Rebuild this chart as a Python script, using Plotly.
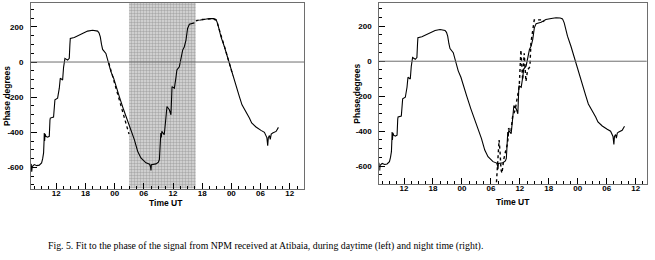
import numpy as np
import plotly.graph_objects as go

# Observed phase (hours UT counted from day-1 00:00, degrees)
time_h = [6.77, 6.85, 6.95, 7.05, 7.47, 8.0, 8.5, 8.98, 9.2, 9.39, 9.5, 9.53, 9.6, 9.7, 9.86,
          10.2, 10.56, 10.7, 10.77, 11.44, 11.6, 11.72, 12.27, 12.5, 12.62, 12.82, 13.3, 13.5,
          13.65, 13.78, 14.33, 14.67, 14.8, 14.88, 15.7, 16.4, 17.07, 17.8, 18.44, 19.47, 20.1,
          20.5, 20.8, 21.05, 21.3, 21.53, 22.2, 22.7, 23.23, 23.79, 24.27, 24.96, 25.85, 26.6,
          27.35, 28.05, 28.73, 29.4, 30.44, 31.2, 31.4, 31.47, 31.55, 32.5, 33.0, 33.2, 33.35,
          33.5, 33.6, 33.7, 34.2, 34.5, 34.76, 35.25, 35.58, 35.8, 36.28, 36.6, 36.8, 37.3,
          37.64, 37.99, 38.34, 38.67, 39.0, 39.37, 40.4, 41.4, 42.5, 43.5, 44.37, 44.84, 45.19,
          45.87, 46.57, 47.25, 47.6, 48.28, 48.96, 49.65, 50.19, 51.01, 51.71, 52.18, 53.07,
          54.1, 54.8, 55.3, 55.48, 55.6, 55.83, 56.0, 56.2, 56.5, 57.2, 57.68]
phase_deg = [-602, -580, -625, -595, -584, -590, -587, -574, -550, -517, -440, -404, -450, -410, -423,
             -428, -423, -330, -319, -313, -260, -215, -206, -175, -149, -92, -102, -30,
             2, 21, 11, 21, 100, 134, 140, 150, 159, 170, 176, 181, 180,
             176, 165, 143, 100, 72, 49, 2, -55, -92, -140, -197, -272, -330,
             -376, -442, -508, -546, -574, -582, -600, -617, -585, -580, -570, -555, -480,
             -404, -430, -395, -414, -330, -253, -272, -300, -140, -149, -90, -45, -27,
             11, 68, 87, 125, 191, 215, 223, 238, 244, 248, 247, 242, 219,
             143, 87, 21, -8, -74, -140, -197, -244, -282, -319, -347, -370,
             -389, -400, -430, -476, -430, -419, -440, -410, -404, -395, -372]

# Fit, daytime (left panel) - visible dotted portions
fit_day_t = [22.8, 23.5, 24.5, 25.5, 26.3, 26.95, None, 40.7, 42.0, 44.0, 44.8, 45.1, 45.8, 46.5, 47.2, 47.6, 48.3]
fit_day_v = [-5, -75, -170, -275, -350, -410, None, 235, 242, 246, 240, 222, 152, 96, 30, -4, -76]

# Fit, night time (right panel)
fit_night_t = [31.0, 31.5, 31.7, 31.9, 32.1, 32.3, 32.64, 33.1, 33.47, 33.67, 34.15, 34.5, 35.04,
               35.5, 35.87, 36.22, 36.57, 36.9, 37.26, 37.6, 38.09, 38.29, 38.64, 38.98, 40.7, 41.0]
fit_night_v = [-760, -560, -450, -520, -620, -640, -564, -507, -469, -383, -402, -317, -278,
               -202, -145, 65, -107, 46, -116, -50, -31, 103, 160, 236, 236, 225]

# Daytime interval shaded in the left panel
day_start, day_end = 26.95, 40.67

x_tickvals = [12, 18, 24, 30, 36, 42, 48, 54, 60]
x_ticktext = ["12", "18", "00", "06", "12", "18", "00", "06", "12"]
y_tickvals = [-600, -400, -200, 0, 200]
y_ticktext = ["-600", "-400", "-200", "0", "200"]

W, H = 655, 260
t = np.array(time_h)
p = np.array(phase_deg)

fig = go.Figure()

# shaded band (left)
fig.add_trace(go.Scatter(x=[day_start, day_end, day_end, day_start, day_start],
                         y=[-2000, -2000, 2000, 2000, -2000], fill="toself", mode="none",
                         fillcolor="#c8c8c8",
                         fillpattern=dict(shape=".", fgcolor="#7a7a7a", bgcolor="#dadada",
                                          size=3, solidity=0.5),
                         xaxis="x", yaxis="y", hoverinfo="skip", showlegend=False))

line = dict(color="black", width=1.1)
m1 = t <= 40.5
m2 = t >= 41.0
fig.add_trace(go.Scatter(x=t[m1], y=p[m1], mode="lines", line=line, xaxis="x", yaxis="y", showlegend=False))
fig.add_trace(go.Scatter(x=t[m2], y=p[m2], mode="lines", line=line, xaxis="x", yaxis="y", showlegend=False))
fig.add_trace(go.Scatter(x=fit_day_t, y=fit_day_v, mode="lines", line=dict(color="black", width=1.3, dash="dot"),
                         xaxis="x", yaxis="y", showlegend=False))

fig.add_trace(go.Scatter(x=t, y=p, mode="lines", line=line, xaxis="x2", yaxis="y2", showlegend=False))
fig.add_trace(go.Scatter(x=fit_night_t, y=fit_night_v, mode="lines", line=dict(color="black", width=1.4, dash="dot"),
                         xaxis="x2", yaxis="y2", showlegend=False))

font_tick = dict(family="Liberation Sans", size=8, color="black", weight="bold")
axcol = "#6e6e6e"


def xax(domain, rng, anchor):
    return dict(domain=domain, range=rng, anchor=anchor, tickmode="array", tickvals=x_tickvals,
                ticktext=x_ticktext, ticks="inside", ticklen=6, tickcolor="black", showline=True,
                linecolor=axcol, linewidth=1, mirror=True, showgrid=False, zeroline=False,
                tickfont=font_tick, ticklabelstandoff=-3,
                minor=dict(tickmode="linear", tick0=0, dtick=1.5, ticks="inside", ticklen=3, tickcolor="black"))


def yax(domain, rng, anchor):
    return dict(domain=domain, range=rng, anchor=anchor, tickmode="array", tickvals=y_tickvals,
                ticktext=y_ticktext, ticks="inside", ticklen=6, tickcolor="black", showline=True,
                linecolor=axcol, linewidth=1, mirror=True, showgrid=False, zeroline=False,
                tickfont=font_tick, ticklabelstandoff=5,
                minor=dict(tickmode="linear", tick0=0, dtick=50, ticks="inside", ticklen=3, tickcolor="black"))


def px(v):
    return v / W


def py(v):
    return 1 - v / H


title_font = dict(family="Liberation Sans", size=8.5, color="black", weight="bold")

fig.update_layout(
    width=W, height=H, margin=dict(l=0, r=0, t=0, b=0),
    paper_bgcolor="white", plot_bgcolor="white",
    xaxis=xax([px(31), px(304)], [6.8, 62.94], "y"),
    yaxis=yax([py(188.5), py(3)], [-720, 336], "x"),
    xaxis2=xax([px(379.3), px(646.7)], [6.88, 62.28], "y2"),
    yaxis2=yax([py(183.7), py(3.3)], [-700, 331], "x2"),
    shapes=[
        dict(type="line", xref="x domain", yref="y", x0=0, x1=1, y0=0, y1=0, line=dict(color=axcol, width=1), layer="above"),
        dict(type="line", xref="x2 domain", yref="y2", x0=0, x1=1, y0=0, y1=0, line=dict(color=axcol, width=1), layer="above"),
    ],
    annotations=[
        dict(text="Time UT", xref="paper", yref="paper", x=px(166), y=py(203), showarrow=False,
             font=title_font, xanchor="center", yanchor="middle"),
        dict(text="Time UT", xref="paper", yref="paper", x=px(513), y=py(201.5), showarrow=False,
             font=title_font, xanchor="center", yanchor="middle"),
        dict(text="Phase degrees", xref="paper", yref="paper", x=px(7), y=py(96), showarrow=False, textangle=-90,
             font=title_font, xanchor="center", yanchor="middle"),
        dict(text="Phase degrees", xref="paper", yref="paper", x=px(356.7), y=py(94), showarrow=False, textangle=-90,
             font=title_font, xanchor="center", yanchor="middle"),
        dict(text="Fig. 5. Fit to the phase of the signal from NPM received at Atibaia, during daytime (left) and night time (right).",
             xref="paper", yref="paper", x=px(265), y=py(246), showarrow=False,
             font=dict(family="Liberation Serif", size=9.8, color="black"), xanchor="center", yanchor="middle"),
    ],
)

fig.write_html("out.html", config={"displayModeBar": False},
               post_script="document.body.style.margin='0';document.body.style.overflow='hidden';")
